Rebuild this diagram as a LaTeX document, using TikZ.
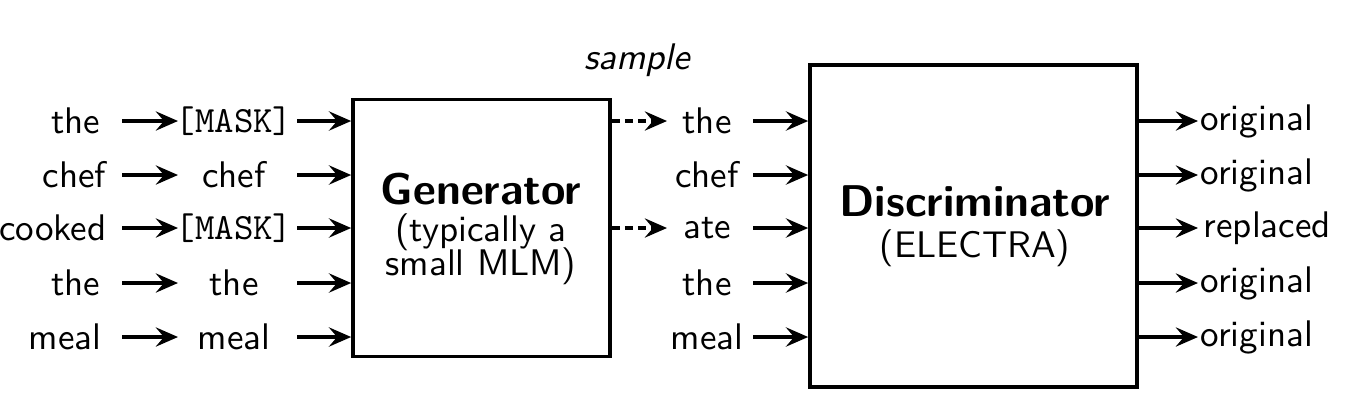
\documentclass[tikz,border=0pt]{standalone}
\usetikzlibrary{arrows.meta}
\renewcommand{\familydefault}{\sfdefault}
\begin{document}
\begin{tikzpicture}[x=0.27pt,y=-0.27pt,
  arr/.style={line width=0.85pt,-{Stealth[length=6pt,width=5.2pt,inset=2.2pt]}},
  darr/.style={arr,dash pattern=on 2.2pt off 1.3pt},
  blk/.style={draw,line width=1pt,inner sep=0pt},
  ]
\useasboundingbox (0,0) rectangle (1352,400);
% boxes
\node[blk,minimum width=257*0.27pt,minimum height=257*0.27pt] (gen) at (481.5,228) {};
\node[blk,minimum width=327*0.27pt,minimum height=322*0.27pt] (dis) at (973.5,226) {};
\node[align=center,inner sep=0pt] (gentxt) at (481,229) {{\large\bfseries Generator}\\[-2pt](typically a\\[-3pt]small MLM)};
\node[align=center,inner sep=0pt] (distxt) at (975,226) {{\large\bfseries Discriminator}\\[-1pt](ELECTRA)};
% rows
\foreach \i/\y/\a/\b/\c/\d/\ax/\ox in {1/121/the/\texttt{[MASK]}/the/original/101/1200,
                           2/175/chef/chef/chef/original/107/1200,
                           3/228/cooked/\texttt{[MASK]}/ate/replaced/107/1203,
                           4/283/the/the/the/original/101/1200,
                           5/337/meal/meal/meal/original/102/1200}{
  \node[inner sep=0pt,anchor=east] (in\i) at (\ax,\y) {\a};
  \coordinate (ina\i) at (122,\y);
  \node[inner sep=0pt] (mid\i) at (234,\y) {\b};
  \coordinate (midb\i) at (178,\y);
  \coordinate (mida\i) at (297,\y);
  \node[inner sep=0pt] (smp\i) at (707,\y) {\c};
  \coordinate (smpa\i) at (753,\y);
  \node[inner sep=0pt,anchor=west] (out\i) at (\ox,\y) {\d};
  \coordinate (outa\i) at (1198,\y);
  \draw[arr] (ina\i) -- (midb\i);
  \draw[arr] (mida\i) -- (gen.west |- mida\i);
  \draw[arr] (smpa\i) -- (dis.west |- smpa\i);
  \draw[arr] (dis.east |- out\i) -- (outa\i);
}
\coordinate (d1) at (667,121);
\coordinate (d3) at (667,228);
\draw[darr] (gen.east |- d1) -- (d1);
\draw[darr] (gen.east |- d3) -- (d3);
\node[inner sep=0pt] (sample) at (637,60) {\itshape sample};
\end{tikzpicture}
\end{document}
